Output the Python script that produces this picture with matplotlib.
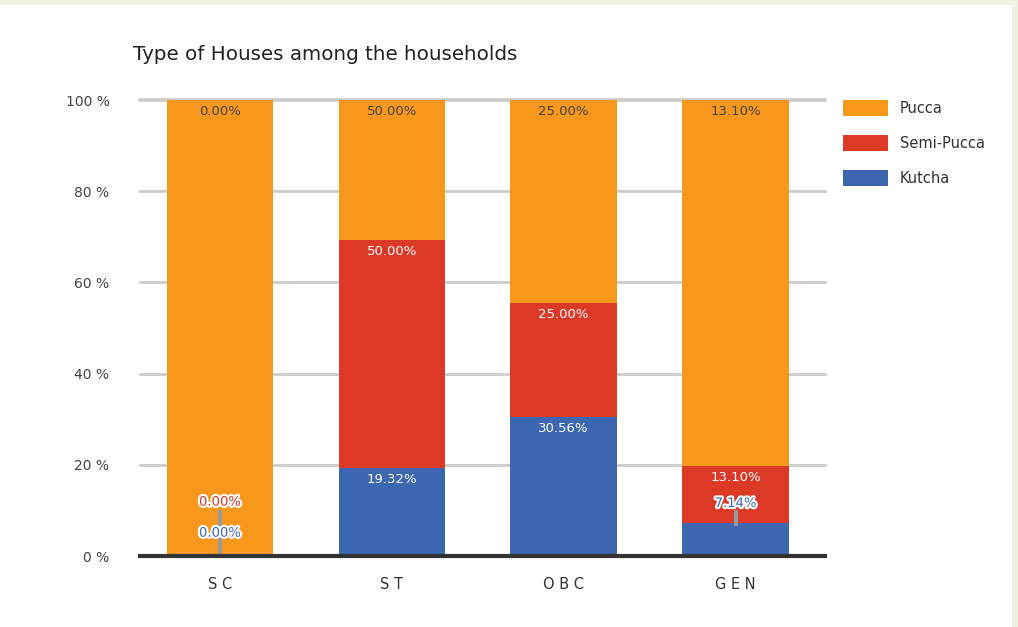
import matplotlib.pyplot as plt
import matplotlib.patheffects as pe
from matplotlib.patches import Rectangle
import numpy as np

# data
groups = ['SC', 'ST', 'OBC', 'GEN']
kutcha = [0.0, 19.32, 30.56, 7.14]
semi_pucca = [0.0, 50.0, 25.0, 12.6]
pucca = [100.0, 30.68, 44.44, 80.26]

# printed labels (as they appear on the chart)
kutcha_lbl = ['0.00%', '19.32%', '30.56%', '7.14%']
semi_lbl = ['0.00%', '50.00%', '25.00%', '13.10%']
pucca_lbl = ['0.00%', '50.00%', '25.00%', '13.10%']
yticks = [0, 20, 40, 60, 80, 100]

c_pucca = '#F7981D'
c_semi = '#DC3A26'
c_kutcha = '#3D67B1'

fig = plt.figure(figsize=(10.18, 6.27), dpi=100)
fig.patch.set_facecolor('#eef2e0')
# white card in front of the greenish background
fig.add_artist(Rectangle((0, 0), 1012 / 1018, 1 - 5 / 627, transform=fig.transFigure,
                         facecolor='white', edgecolor='none', zorder=0))

ax = fig.add_axes([140 / 1018, 1 - 556 / 627, 685 / 1018, 456 / 627])
ax.set_facecolor('none')
x = np.arange(len(groups))
w = 0.62

k = np.array(kutcha)
s = np.array(semi_pucca)
p = np.array(pucca)
ax.bar(x, k, w, color=c_kutcha, label='Kutcha', zorder=3)
ax.bar(x, s, w, bottom=k, color=c_semi, label='Semi-Pucca', zorder=3)
ax.bar(x, p, w, bottom=k + s, color=c_pucca, label='Pucca', zorder=3)

for yv in yticks[1:]:
    ax.axhline(yv, color='#cccccc', lw=2 if yv < 100 else 2.6, zorder=1, clip_on=False)
ax.axhline(0, color='#333333', lw=3, zorder=5, clip_on=False)

ax.set_xlim(-0.465, 3.52)
ax.set_ylim(0, 100)
for sp in ax.spines.values():
    sp.set_visible(False)
ax.set_yticks(yticks)
ax.set_yticklabels(['%d %%' % v for v in yticks], color='#444444', fontsize=10)
ax.set_xticks(x)
ax.set_xticklabels([' '.join(g) for g in groups], color='#333333', fontsize=10.5)
ax.tick_params(axis='y', length=0, pad=22)
ax.tick_params(axis='x', length=0, pad=15)

fs = 9.5
outline = [pe.withStroke(linewidth=3, foreground='white')]
for i in range(len(groups)):
    top = k[i] + s[i] + p[i]
    ax.text(x[i], top - 1.2, pucca_lbl[i], ha='center', va='top', color='#444444',
            fontsize=fs, zorder=6)
    if i in (1, 2):
        ax.text(x[i], k[i] + s[i] - 1.2, semi_lbl[i], ha='center', va='top',
                color='white', fontsize=fs, zorder=6)
        ax.text(x[i], k[i] - 1.2, kutcha_lbl[i], ha='center', va='top',
                color='white', fontsize=fs, zorder=6)

# small segments: labels pulled out with a leader line
ax.plot([x[0], x[0]], [0, 10], color='#999999', lw=3, zorder=4, solid_capstyle='butt')
ax.text(x[0], 11.8, semi_lbl[0], ha='center', va='center', color=c_semi, fontsize=fs,
        zorder=6, path_effects=outline)
ax.text(x[0], 5.0, kutcha_lbl[0], ha='center', va='center', color=c_kutcha, fontsize=fs,
        zorder=6, path_effects=outline)

ax.plot([x[3], x[3]], [k[3] - 0.5, 10], color='#999999', lw=3, zorder=4, solid_capstyle='butt')
ax.text(x[3], k[3] + s[3] - 1.2, semi_lbl[3], ha='center', va='top', color='white',
        fontsize=fs, zorder=6)
ax.text(x[3], 11.5, kutcha_lbl[3], ha='center', va='center', color=c_kutcha, fontsize=fs,
        zorder=7, path_effects=outline)

fig.text(133 / 1018, 1 - 55 / 627, 'Type of Houses among the households', ha='left',
         va='center', fontsize=14.3, color='#222222')

h, l = ax.get_legend_handles_labels()
leg = ax.legend(h[::-1], l[::-1], loc='upper left', bbox_to_anchor=(1.018, 1.012),
                frameon=False, fontsize=10.5, handlelength=3.1, handleheight=1.3,
                labelspacing=1.3, handletextpad=0.8, borderaxespad=0)
for t in leg.get_texts():
    t.set_color('#333333')

fig.savefig('out.png', dpi=100, facecolor=fig.get_facecolor())
